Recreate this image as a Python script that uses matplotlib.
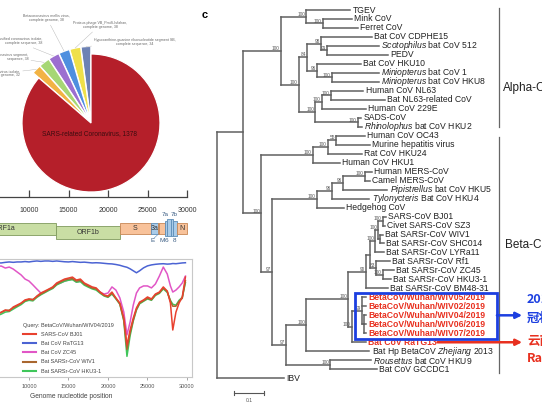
#!/usr/bin/env python3
"""Composite figure: BLAST hit pie, genome map, similarity plot and CoV tree."""

import matplotlib
matplotlib.use("Agg")
import numpy as np
import matplotlib.pyplot as plt
from matplotlib.patches import Rectangle

plt.rcParams["font.family"] = ["Liberation Sans", "DejaVu Sans"]
plt.rcParams["mathtext.fontset"] = "custom"
plt.rcParams["mathtext.rm"] = "Liberation Sans"
plt.rcParams["mathtext.it"] = "Liberation Sans:italic"

W, H = 542, 408

# ---- pie: BLAST hit species
pie_names = [
    "Hypoxanthine-guanine ribonucleotide segment SB,\ncomplete sequence",
    "Proteus phage VB_PmiS-Isfahan,\ncomplete genome",
    "Betacoronavirus mellis virus,\ncomplete genome",
    "Unclassified coronavirus isolate,\ncomplete sequence",
    "Bat coronavirus segment,\nsequence",
    "Coronavirus isolate,\ncomplete genome",
    "SARS-related Coronavirus",
]
pie_counts = [34, 38, 38, 38, 38, 32, 1378]
pie_colors = ["#6d82b4", "#efe04a", "#4f8fdf", "#9c6fd0", "#a6d774", "#f2b344", "#b51f2a"]

# ---- genome map (nt)
gene_names = ["ORF1a", "ORF1b", "S", "3a", "E", "M", "6", "7a", "7b", "8", "N"]
gene_start = [266, 13470, 21560, 25390, 26330, 26460, 27215, 27470, 27975, 28230, 28730]
gene_end = [13480, 21550, 25380, 26320, 26450, 27210, 27465, 27970, 28225, 28730, 29990]
ruler_ticks = [5000, 10000, 15000, 20000, 25000, 30000]

# ---- similarity plot (query BetaCoV/Wuhan/WIV04/2019)
sim_pos = [5000, 5500, 6000, 6500, 7000, 7500, 8000, 8500, 9000, 9500,
           10000, 10500, 11000, 11500, 12000, 12500, 13000, 13500, 14000, 14500,
           15000, 15500, 16000, 16500, 17000, 17500, 18000, 18500, 19000, 19500,
           20000, 20500, 21000, 21500, 22000, 22400, 22800, 23200, 23600, 24000,
           24500, 25000, 25500, 26000, 26500, 27000, 27500, 27900, 28200, 28600,
           29000, 29400, 29800]
sim_bj01 = [.700, .710, .720, .730, .741, .736, .756, .766, .776, .792,
            .797, .792, .812, .827, .837, .847, .858, .878, .888, .898,
            .903, .908, .893, .898, .878, .868, .858, .853, .832, .817,
            .812, .832, .802, .776, .700, .563, .639, .700, .751, .781,
            .792, .807, .797, .822, .832, .858, .837, .776, .639, .730,
            .776, .807, .908]
sim_ratg13 = [.980, .978, .980, .980, .983, .985, .983, .985, .985, .987,
              .985, .988, .990, .988, .990, .990, .988, .990, .988, .986,
              .985, .987, .985, .983, .984, .982, .980, .981, .980, .978,
              .976, .975, .972, .968, .962, .958, .950, .940, .930, .940,
              .955, .965, .970, .973, .975, .976, .974, .975, .977, .976,
              .978, .980, .981]
sim_zc45 = [.964, .969, .964, .964, .954, .959, .949, .934, .919, .898,
            .888, .868, .847, .827, .832, .842, .853, .873, .878, .888,
            .893, .898, .883, .888, .873, .863, .853, .847, .832, .822,
            .827, .858, .842, .802, .730, .614, .680, .766, .827, .853,
            .863, .863, .853, .873, .913, .959, .924, .863, .832, .842,
            .858, .878, .913]
sim_wiv1 = [.705, .713, .722, .728, .738, .740, .752, .762, .774, .788,
            .795, .795, .808, .822, .832, .845, .853, .872, .884, .893,
            .898, .900, .888, .892, .873, .862, .852, .848, .830, .815,
            .808, .826, .800, .772, .690, .540, .625, .690, .745, .776,
            .788, .800, .793, .818, .828, .852, .835, .785, .760, .760,
            .785, .800, .890]
sim_hku3 = [.690, .700, .712, .720, .730, .733, .745, .757, .768, .784,
            .790, .787, .805, .818, .829, .840, .850, .868, .878, .887,
            .892, .895, .882, .885, .867, .857, .848, .842, .826, .812,
            .805, .822, .797, .770, .685, .505, .610, .685, .740, .772,
            .785, .797, .790, .815, .825, .848, .830, .790, .770, .765,
            .790, .805, .880]
sim_ticks = [10000, 15000, 20000, 25000, 30000]

# ---- phylogeny: leaf = (name, depth); node = (depth, support, children)
tree = (0.0, "", [
    (0.087, "", [
        (0.213, "100", [
            (0.297, "100", [("TGEV", 0.443),
                            (0.353, "100", [("Mink CoV", 0.450), ("Ferret CoV", 0.470)])]),
            (0.273, "100", [
                (0.300, "84", [
                    (0.347, "98", [("Bat CoV CDPHE15", 0.517),
                                   (0.367, "99", [("$\\mathit{Scotophilus}$ bat CoV 512", 0.540),
                                                  ("PEDV", 0.570)])]),
                    (0.333, "96", [("Bat CoV HKU10", 0.480),
                                   (0.383, "100", [("$\\mathit{Miniopterus}$ bat CoV 1", 0.540),
                                                   ("$\\mathit{Miniopterus}$ bat CoV HKU8", 0.540)])])]),
                (0.327, "100", [
                    (0.350, "100", [(0.380, "100", [("Human CoV NL63", 0.487),
                                                    ("Bat NL63-related CoV", 0.560)]),
                                    ("Human CoV 229E", 0.497)]),
                    (0.470, "100", [("SADS-CoV", 0.480),
                                    ("$\\mathit{Rhinolophus}$ bat CoV HKU2", 0.483)])])])]),
        (0.147, "100", [
            (0.320, "100", [
                (0.370, "100", [(0.397, "55", [("Human CoV OC43", 0.493),
                                               ("Murine hepatitis virus", 0.510)]),
                                ("Rat CoV HKU24", 0.483)]),
                ("Human CoV HKU1", 0.410)]),
            (0.183, "97", [
                (0.333, "100", [
                    (0.383, "96", [
                        (0.420, "96", [(0.493, "100", [("Human MERS-CoV", 0.517),
                                                       ("Camel MERS-CoV", 0.510)]),
                                       ("$\\mathit{Pipistrellus}$ bat CoV HKU5", 0.567)]),
                        ("$\\mathit{Tylonycteris}$ Bat CoV HKU4", 0.507)]),
                    ("Hedgehog CoV", 0.423)]),
                (0.230, "97", [
                    (0.297, "100", [
                        (0.437, "100", [
                            (0.497, "90", [
                                (0.510, "", [
                                    (0.527, "100", [
                                        (0.537, "100", [
                                            (0.553, "100", [("SARS-CoV BJ01", 0.563),
                                                            ("Civet SARS-CoV SZ3", 0.560)]),
                                            (0.543, "", [("Bat SARSr-CoV WIV1", 0.553),
                                                         ("Bat SARSr-CoV SHC014", 0.557)])]),
                                        ("Bat SARSr-CoV LYRa11", 0.557)]),
                                    (0.530, "83", [("Bat SARSr-CoV Rf1", 0.577),
                                                   (0.553, "100", [("Bat SARSr-CoV ZC45", 0.590),
                                                                   ("Bat SARSr-CoV HKU3-1", 0.580)])])]),
                                ("Bat SARSr-CoV BM48-31", 0.570)]),
                            (0.450, "100", [
                                (0.483, "99", [("BetaCoV/Wuhan/WIV05/2019", 0.497),
                                               ("BetaCoV/Wuhan/WIV02/2019", 0.497),
                                               (0.490, "", [("BetaCoV/Wuhan/WIV04/2019", 0.497),
                                                            ("BetaCoV/Wuhan/WIV06/2019", 0.497),
                                                            ("BetaCoV/Wuhan/WIV07/2019", 0.497)])]),
                                ("Bat CoV RaTG13", 0.497)])]),
                        ("Bat Hp BetaCoV $\\mathit{Zhejiang}$ 2013", 0.507)]),
                    (0.377, "100", [("$\\mathit{Rousettus}$ bat CoV HKU9", 0.513),
                                    ("Bat CoV GCCDC1", 0.533)])])])])]),
    ("IBV", 0.223)])

highlight = ["BetaCoV/Wuhan/WIV05/2019", "BetaCoV/Wuhan/WIV02/2019", "BetaCoV/Wuhan/WIV04/2019",
             "BetaCoV/Wuhan/WIV06/2019", "BetaCoV/Wuhan/WIV07/2019", "Bat CoV RaTG13"]

BLUE = "#1c3fe0"
RED = "#e8301f"


def fx(px):
    return px / W


def fy(py):
    return 1 - py / H


def px_axes(fig, left, top, right, bottom):
    return fig.add_axes([fx(left), fy(bottom), (right - left) / W, (bottom - top) / H])


def draw_pie(fig):
    ax = px_axes(fig, 0, 0, 200, 200)
    explode = [0.03] * (len(pie_counts) - 1) + [0]
    wedges, _ = ax.pie(pie_counts, colors=pie_colors, startangle=90, counterclock=True,
                       explode=explode, wedgeprops=dict(edgecolor="white", linewidth=0.9))
    for w in wedges[:-1]:
        w.set_radius(1.08)
    # centre at (91, 123) px, radius 69 px
    ax.set_xlim(-91 / 69, 109 / 69)
    ax.set_ylim(-77 / 69, 123 / 69)
    ax.set_aspect("equal")
    ax.axis("off")

    label_at = [(0.64, 1.17, "center"), (0.13, 1.42, "center"), (-0.64, 1.52, "center"),
                (-0.71, 1.19, "right"), (-0.91, 0.96, "right"), (-1.03, 0.72, "right")]
    for w, name, n, (tx, ty, ha) in zip(wedges[:-1], pie_names, pie_counts, label_at):
        ang = np.deg2rad((w.theta1 + w.theta2) / 2)
        cx, cy = w.center
        ex, ey = cx + w.r * np.cos(ang), cy + w.r * np.sin(ang)
        ax.annotate(f"{name}, {n}", xy=(ex, ey), xytext=(tx, ty), ha=ha, va="center",
                    fontsize=2.6, color="#666", linespacing=1.1, annotation_clip=False,
                    arrowprops=dict(arrowstyle="-", color="#b0b0b0", lw=0.3,
                                    shrinkA=0, shrinkB=0))
    ax.text(-0.015, -0.16, f"{pie_names[-1]}, {pie_counts[-1]}", ha="center", va="center",
            fontsize=4.7, color="#3b0d10")


def draw_genome(fig):
    ax = px_axes(fig, -50, 190, 187, 197)
    ax.set_xlim(0, 30000)
    ax.set_ylim(0, 1)
    for side in ("left", "right", "top"):
        ax.spines[side].set_visible(False)
    ax.spines["bottom"].set_color("#444")
    ax.spines["bottom"].set_linewidth(0.9)
    ax.set_yticks([])
    ax.set_xticks(ruler_ticks)
    ax.set_xticklabels([str(t) for t in ruler_ticks])
    ax.tick_params(axis="x", direction="in", length=5, width=0.9, color="#444",
                   pad=7.2, labelsize=5, labelcolor="#333")
    ax.patch.set_visible(False)

    gx = px_axes(fig, -50, 212, 192, 245)
    gx.set_xlim(0, 30633)
    gx.set_ylim(245, 212)
    gx.axis("off")
    green = ("#c9dea4", "#7f9a5c")
    peach = ("#f8c29a", "#c88755")
    blue = ("#a9cbe8", "#5d8db8")
    style = {"ORF1a": green + (223, 235), "ORF1b": green + (226, 239),
             "S": peach + (223, 234), "3a": blue + (223, 234), "E": peach + (223, 234),
             "M": peach + (223, 234), "6": blue + (221, 236), "7a": blue + (219, 236),
             "7b": blue + (219, 236), "8": blue + (221, 236), "N": peach + (223, 234)}
    inside = {"ORF1a", "ORF1b", "S", "3a", "N"}
    nudge = {"E": (-760, 241), "M": (0, 241), "6": (0, 241), "8": (0, 241),
             "7a": (-450, 215), "7b": (250, 215)}
    for name, s, e in zip(gene_names, gene_start, gene_end):
        fc, ec, top, bot = style[name]
        gx.add_patch(Rectangle((s, top), e - s, bot - top, facecolor=fc, edgecolor=ec, lw=0.6))
        mid = (s + e) / 2
        if name in inside:
            gx.text(mid, (top + bot) / 2, name, ha="center", va="center", fontsize=5, color="#333")
        else:
            dx, ly = nudge[name]
            gx.text(mid + dx, ly, name, ha="center", va="center", fontsize=4.6, color="#3d5f85")
            if name == "E":
                gx.plot([mid + dx + 150, mid], [238.5, 234], color="#5d8db8", lw=0.4)


def draw_similarity(fig):
    ax = px_axes(fig, -50, 259, 192, 377)
    ax.set_xlim(0, 30633)
    ax.set_ylim(0.4, 1.0)
    series = [("SARS-CoV BJ01", sim_bj01, "#e8412f", 5),
              ("Bat CoV RaTG13", sim_ratg13, "#4b63d3", 1),
              ("Bat CoV ZC45", sim_zc45, "#e156c6", 2),
              ("Bat SARSr-CoV WIV1", sim_wiv1, "#a9672f", 4),
              ("Bat SARSr-CoV HKU3-1", sim_hku3, "#3fc65a", 3)]
    for label, vals, color, z in series:
        ax.plot(sim_pos, vals, color=color, lw=1.1, label=label, zorder=z)
    for sp in ax.spines.values():
        sp.set_color("#c8c8c8")
        sp.set_linewidth(0.8)
    ax.set_xticks(sim_ticks)
    ax.set_xticklabels([str(t) for t in sim_ticks])
    ax.tick_params(axis="x", length=2.5, width=0.6, color="#999", labelsize=4,
                   labelcolor="#555", pad=2.5)
    ax.set_yticks([])
    ax.set_xlabel("Genome nucleotide position", fontsize=4.8, color="#444", labelpad=3)
    leg = ax.legend(title="Query: BetaCoV/Wuhan/WIV04/2019", loc="upper left",
                    bbox_to_anchor=(fx(20), fy(320)), bbox_transform=fig.transFigure,
                    frameon=False, fontsize=4, title_fontsize=4, handlelength=2.4,
                    handletextpad=0.9, labelspacing=0.75, borderpad=0, alignment="left")
    for line in leg.get_lines():
        line.set_linewidth(1.5)
    leg.get_title().set_color("#444")
    for t in leg.get_texts():
        t.set_color("#444")


def draw_tree(fig):
    ax = px_axes(fig, 200, 0, 542, 408)
    # depth d -> px 217 + 300 d ; leaf i -> px 10 + 8.98 i
    ax.set_xlim(-17 / 300, 325 / 300)
    ax.set_ylim(398 / 8.98, -10 / 8.98)
    ax.axis("off")
    line_kw = dict(color="#606060", lw=1.1, solid_capstyle="projecting")
    leaf_y = {}
    counter = [0]

    def walk(node, parent_depth):
        if isinstance(node[0], str):
            name, depth = node
            y = counter[0]
            counter[0] += 1
            leaf_y[name] = y
            ax.plot([parent_depth, depth], [y, y], **line_kw)
            if name in highlight:
                ax.text(depth + 0.008, y, name, va="center", ha="left", fontsize=6.2,
                        color=RED, fontweight="bold")
            else:
                ax.text(depth + 0.008, y, name, va="center", ha="left", fontsize=6.2,
                        color="#222")
            return y
        depth, support, kids = node
        ys = [walk(k, depth) for k in kids]
        y = (ys[0] + ys[-1]) / 2
        ax.plot([depth, depth], [ys[0], ys[-1]], **line_kw)
        ax.plot([parent_depth, depth], [y, y], **line_kw)
        if support:
            ax.text(depth - 0.004, y - 0.25, support, ha="right", va="center",
                    fontsize=3.4, color="#555")
        return y

    walk(tree, tree[0])

    # scale bar
    ax.plot([0.0567, 0.1567], [42.65, 42.65], color="#555", lw=0.8)
    for xb in (0.0567, 0.1567):
        ax.plot([xb, xb], [42.4, 42.9], color="#555", lw=0.8)
    ax.text(0.1067, 43.5, "0.1", ha="center", va="center", fontsize=3.6, color="#555")

    # genus brackets
    first_beta = leaf_y["Human CoV OC43"]
    last_beta = leaf_y["Bat CoV GCCDC1"]
    ax.plot([0.94, 0.94], [-0.22, first_beta - 0.95], color="#666", lw=0.9)
    ax.plot([0.94, 0.94], [first_beta + 0.15, last_beta + 0.4], color="#666", lw=0.9)

    # highlighted clade box and arrows
    top = leaf_y["BetaCoV/Wuhan/WIV05/2019"] - 0.5
    bot = leaf_y["BetaCoV/Wuhan/WIV07/2019"] + 0.63
    ax.add_patch(Rectangle((0.46, top), 0.473, bot - top, fill=False, edgecolor=BLUE,
                           lw=2.0, zorder=5))
    ymid = leaf_y["BetaCoV/Wuhan/WIV04/2019"]
    ax.annotate("", xy=(1.017, ymid), xytext=(0.933, ymid),
                arrowprops=dict(arrowstyle="-|>", color=BLUE, lw=1.8, mutation_scale=9,
                                shrinkA=0, shrinkB=0))
    yr = leaf_y["Bat CoV RaTG13"]
    ax.annotate("", xy=(1.017, yr), xytext=(0.735, yr),
                arrowprops=dict(arrowstyle="-|>", color=RED, lw=1.8, mutation_scale=9,
                                shrinkA=0, shrinkB=0))


fig = plt.figure(figsize=(W / 100, H / 100), dpi=100)
fig.patch.set_facecolor("white")

draw_pie(fig)
draw_genome(fig)
draw_similarity(fig)
draw_tree(fig)

fig.text(fx(202), fy(15), "c", fontsize=8, fontweight="bold", va="center", ha="left")
fig.text(fx(503), fy(88), "Alpha-CoV", fontsize=8.5, color="#222", va="center", ha="left")
fig.text(fx(505), fy(245), "Beta-CoV", fontsize=8.5, color="#222", va="center", ha="left")
cjk = ["Noto Sans CJK SC", "Liberation Sans", "DejaVu Sans"]
fig.text(fx(527), fy(299), "2019新型", fontsize=9, fontweight="bold", color=BLUE,
         va="center", ha="left", family=cjk)
fig.text(fx(527), fy(318), "冠状病毒", fontsize=9, fontweight="bold", color=BLUE,
         va="center", ha="left", family=cjk)
fig.text(fx(527), fy(341), "云南蝙蝠", fontsize=9, fontweight="bold", color=RED,
         va="center", ha="left", family=cjk)
fig.text(fx(527), fy(358), "RaTG13", fontsize=9, fontweight="bold", color=RED,
         va="center", ha="left", family=cjk)

fig.savefig("out.png", dpi=100)
